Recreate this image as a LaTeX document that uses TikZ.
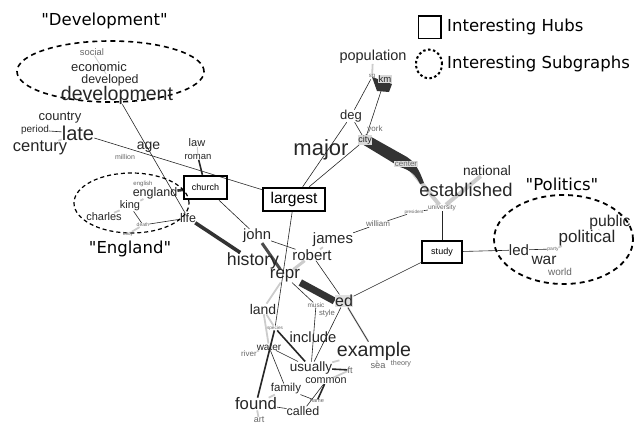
\documentclass[tikz,border=0pt]{standalone}
\usepackage{fontspec}
\usepackage{tikz}
\usetikzlibrary{backgrounds,shapes.geometric}
\newfontfamily\wordfont{Liberation Sans}
\newfontfamily\labelfont{DejaVu Sans}

\tikzset{
  wd/.style={font=\wordfont\fontsize{#1}{#1}\selectfont, inner sep=0pt, text=black!85},
  sm/.style={font=\wordfont\fontsize{#1}{#1}\selectfont, inner sep=0pt, text=black!60},
  tag/.style={font=\labelfont\fontsize{16.5}{16.5}\selectfont, inner sep=0pt},
  hub/.style={draw, line width=2.4pt, inner sep=0pt},
  lnk/.style={line width=0.6pt, black!85},
  mid/.style={line width=1.6pt, black!85},
  faint/.style={line width=1.8pt, black!20},
  group/.style={draw, ellipse, dashed, inner sep=0pt}
}

\begin{document}
\begin{tikzpicture}[x=1pt, y=-1pt]
\useasboundingbox (0,0) rectangle (635,424);

% subgraph outlines
\node[group, line width=1.6pt, dash pattern=on 5pt off 4pt, minimum width=187, minimum height=61] (gdev) at (110.5,71.5) {};
\node[group, line width=1.2pt, dash pattern=on 4pt off 3pt, minimum width=115, minimum height=60] (geng) at (131.5,203) {};
\node[group, line width=1.8pt, dash pattern=on 5pt off 4pt, minimum width=139, minimum height=89] (gpol) at (563.5,239.5) {};

\node[tag] (tdev) at (104.5,21) {"Development"};
\node[tag] (teng) at (130,249) {"England"};
\node[tag] (tpol) at (562,184) {"Politics"};

% legend
\node[draw, line width=1.5pt, minimum size=22.5] (keyhub) at (429.5,27) {};
\node[tag, anchor=west] (keyhubt) at (447,27) {Interesting Hubs};
\node[draw, ellipse, line width=2pt, dash pattern=on 2.5pt off 2.5pt, minimum width=26, minimum height=29] (keysub) at (429,64) {};
\node[tag, anchor=west] (keysubt) at (447,64) {Interesting Subgraphs};

% hubs
\node[hub, minimum width=43, minimum height=23, font=\wordfont\fontsize{9}{9}\selectfont] (church) at (205.5,187.5) {church};
\node[hub, minimum width=62, minimum height=23, font=\wordfont\fontsize{15.6}{15.6}\selectfont] (largest) at (294,199.5) {largest};
\node[hub, minimum width=40, minimum height=22, font=\wordfont\fontsize{9}{9}\selectfont] (study) at (442,252) {study};

% words, development group
\node (social) at (92,52) [sm=9.4] {social};
\node (economic) at (99,67) [wd=13] {economic};
\node (developed) at (110,80) [wd=12.4] {developed};
\node (development) at (117,95) [wd=19.6] {development};
\node (country) at (60,118) [wd=13] {country};
\node (period) at (35,130) [wd=10] {period};
\node (late) at (78,133) [wd=20] {late};
\node (century) at (40,148) [wd=16.5] {century};
\node (age) at (148.5,147) [wd=14] {age};
\node (million) at (125,157) [sm=7] {million};
\node (law) at (197,143) [wd=11] {law};
\node (roman) at (198,157) [wd=9.5] {roman};

% england group
\node (english) at (143,184) [sm=6] {english};
\node (england) at (155,193) [wd=12.5] {england};
\node (king) at (130,206) [wd=11] {king};
\node (charles) at (104,217) [wd=11] {charles};
\node (death) at (143,225) [sm=5] {death};
\node (body) at (128,234) [sm=4.5] {body};
\node (life) at (188,218) [wd=12.5] {life};

% top middle
\node (population) at (373,57) [wd=14.5] {population};
\fill[black!80] (372,77) -- (392,84) -- (389,92) -- (377,91) -- cycle;
\node (sq) at (372,77) [sm=6] {sq};
\node (km) at (385,79) [wd=9.5, fill=black!15, inner sep=0.5pt] {km};
\node (deg) at (351,116) [wd=13] {deg};
\node (york) at (375,129) [sm=8] {york};
\node (city) at (365,140) [wd=9, fill=black!15, inner sep=0.5pt] {city};
\node (major) at (321,150) [wd=22] {major};
\node (center) at (406,164) [sm=8, fill=black!12, inner sep=0.5pt] {center};
\node (national) at (487,171) [wd=13.7] {national};
\node (established) at (466,190) [wd=18.4] {established};
\node (university) at (442,208) [sm=6.6] {university};
\node (president) at (414,212) [sm=4.6] {president};
\node (william) at (378,224) [sm=8] {william};

% politics group
\node (public) at (610,222) [wd=15.7] {public};
\node (political) at (587,238) [wd=17] {political};
\node (led) at (519,250) [wd=15] {led};
\node (party) at (553,249) [sm=5] {party};
\node (war) at (544,260) [wd=15.5] {war};
\node (world) at (560,272) [sm=10] {world};

% middle
\node (john) at (257,236) [wd=14.8] {john};
\node (james) at (333,240) [wd=15] {james};
\node (robert) at (312,255) [wd=15] {robert};
\node (history) at (253,261) [wd=17.7] {history};
\node (repr) at (285,276) [wd=17] {repr};
\node (ed) at (344,301) [wd=16, fill=black!12, inner sep=0.5pt] {ed};
\node (land) at (263,309) [wd=14] {land};
\node (music) at (316,305) [sm=6.5] {music};
\node (style) at (327,314) [sm=7.7] {style};

% bottom
\node (species) at (275,328) [sm=4.7] {species};
\node (include) at (313,337) [wd=14.8] {include};
\node (water) at (269,347) [wd=10] {water};
\node (river) at (249,354) [sm=8] {river};
\node (example) at (374,351) [wd=19.6] {example};
\node (sea) at (378,366) [sm=9.3] {sea};
\node (theory) at (401,364) [sm=7.2] {theory};
\node (usually) at (311,368) [wd=13.5] {usually};
\node (ft) at (350,370) [sm=9] {ft};
\node (common) at (326,381) [wd=10.8] {common};
\node (family) at (286,389) [wd=11.5] {family};
\node (found) at (256,404) [wd=16.7] {found};
\node (name) at (317,401) [sm=5.6] {name};
\node (called) at (303,411) [wd=12.5] {called};
\node (art) at (259,420) [sm=9] {art};

\begin{scope}[on background layer]
% light links
\draw[faint, line width=0.8pt] (social) -- (developed);
\draw[faint] (century) -- (late);
\draw[faint, line width=1pt] (law) -- (roman);
\draw[faint] (english) -- (england);
\draw[faint] (england) -- (king);
\draw[faint] (king) -- (charles);
\draw[faint] (death) -- (body);
\draw[faint, line width=3pt] (history) -- (repr);
\draw[faint, line width=3pt] (robert) -- (repr);
\draw[faint] (james) -- (robert);
\draw[faint] (repr) -- (land);
\draw[faint] (land) -- (species);
\draw[faint] (land) -- (water);
\draw[faint] (river) -- (water);
\draw[faint] (found) -- (family);
\draw[faint] (found) -- (art);
\draw[faint] (usually) -- (example);
\draw[faint] (common) -- (ft);
\draw[faint] (example) -- (sea);
\draw[faint] (ed) -- (example);
\draw[faint, line width=4pt] (center) -- (university);
\draw[faint, line width=4pt] (national) -- (university);
\draw[faint] (party) -- (political);
\draw[faint] (political) -- (public);
\draw[faint] (population) -- (sq);

% dark links
\draw[lnk] (development) -- (life);
\draw[lnk] (period) -- (late);
\draw[lnk] (late) -- (largest);
\draw[lnk] (church) -- (john);
\draw[lnk] (john) -- (robert);
\draw[lnk] (largest) -- (deg);
\draw[lnk] (largest) -- (city);
\draw[lnk] (largest) -- (species);
\draw[lnk] (deg) -- (sq);
\draw[lnk] (deg) -- (city);
\draw[lnk] (city) -- (km);
\draw[lnk] (university) -- (president) -- (william) -- (james);
\draw[lnk] (university) -- (study);
\draw[lnk] (study) -- (led);
\draw[lnk] (study) -- (ed);
\draw[lnk] (led) -- (party);
\draw[lnk] (robert) -- (ed);
\draw[lnk] (repr) -- (music);
\draw[lnk] (ed) -- (example);
\draw[lnk] (ed) -- (usually);
\draw[lnk] (music) -- (usually);
\draw[lnk] (water) -- (usually);
\draw[lnk] (water) -- (family);
\draw[lnk] (family) -- (name);
\draw[lnk] (found) -- (called);
\draw[lnk] (common) -- (called);
\draw[lnk] (king) -- (death);
\draw[lnk] (death) -- (life);

\draw[mid] (roman) -- (church);
\draw[mid] (species) -- (found);
\draw[mid] (species) -- (usually);
\draw[mid] (common) -- (name);
\draw[mid] (usually) -- (ft);
\draw[black!80, line width=2.6pt] (england) -- (church);
\draw[black!80, line width=3.6pt] (life) -- (history);
\draw[black!70, line width=3pt] (john) -- (repr);
\draw[black!80, line width=7pt] (repr.south east) -- (ed.west);

% heavy city link
\fill[black!80] (366,134) -- (407,157) .. controls (416,163) and (420,172) .. (424,183)
  -- (420,184) .. controls (416,175) and (410,170) .. (400,167) -- (362,144) -- cycle;
\end{scope}
\end{tikzpicture}
\end{document}
